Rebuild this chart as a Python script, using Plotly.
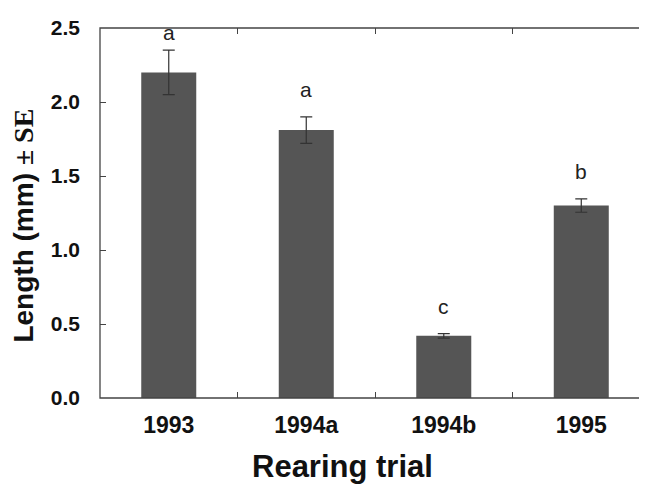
import plotly.graph_objects as go

categories = ["1993", "1994a", "1994b", "1995"]
lengths = [2.20, 1.81, 0.42, 1.30]
se = [0.15, 0.09, 0.015, 0.045]
letters = ["a", "a", "c", "b"]
y_ticks = [0.0, 0.5, 1.0, 1.5, 2.0, 2.5]
x_boundaries = [0.5, 1.5, 2.5]
x_title = "Rearing trial"
y_title = "Length (mm) <span style='font-family:Liberation Serif'>± SE</span>"

label_gap_px = [4, 14, 14, 14]
x_range = [-0.5, 3.478]
y_range = [0, 2.5]
axis_col = "#444444"
sans = "Liberation Sans, Arial"

fig = go.Figure()
fig.add_trace(go.Bar(
    x=list(range(len(categories))), y=lengths, width=0.4,
    marker=dict(color="#555555", line=dict(width=0)),
    error_y=dict(type="data", array=se, visible=True, color="#333333",
                 thickness=1.2, width=6),
    showlegend=False, hoverinfo="skip",
))
# empty helper traces so the tick-only overlay axes are drawn
fig.add_trace(go.Scatter(x=[None], y=[None], xaxis="x2", yaxis="y2",
                         showlegend=False, hoverinfo="skip", mode="markers"))
fig.add_trace(go.Scatter(x=[None], y=[None], xaxis="x3", yaxis="y",
                         showlegend=False, hoverinfo="skip", mode="markers"))

for i, (v, s, t, g) in enumerate(zip(lengths, se, letters, label_gap_px)):
    fig.add_annotation(x=i, y=v + s, text=t, showarrow=False,
                       yanchor="bottom", yshift=g,
                       font=dict(family=sans, size=21, color="#222222"))

# axis titles
fig.add_annotation(xref="paper", yref="paper", x=0.444, y=0, yshift=-68,
                   xanchor="center", yanchor="middle", showarrow=False, text=x_title,
                   font=dict(family=sans, size=31, color="#111111", weight="bold"))
fig.add_annotation(xref="paper", yref="paper", x=0, y=0.466, xshift=-76,
                   xanchor="center", yanchor="middle", showarrow=False, text=y_title,
                   textangle=-90,
                   font=dict(family=sans, size=28, color="#111111", weight="bold"))

# frame: left, top and bottom sides (right side lies beyond the picture)
fig.add_shape(type="path", xref="paper", yref="paper",
              path="M 1.02 1 L 0 1 L 0 0 L 1.02 0",
              line=dict(color=axis_col, width=1.3), layer="above")

tick_common = dict(ticks="inside", ticklen=6, tickwidth=1.2, tickcolor=axis_col,
                   showgrid=False, zeroline=False, showline=False)

# the page is drawn 8 px in from its top-left corner, so margins are shifted accordingly
fig.update_layout(
    width=647, height=485,
    margin=dict(l=92, r=8, t=11, b=95),
    paper_bgcolor="white", plot_bgcolor="white",
    xaxis=dict(
        range=x_range, tickvals=list(range(len(categories))), ticktext=categories,
        showline=False, ticks="", showgrid=False, zeroline=False,
        tickfont=dict(family=sans, size=23, color="#111111", weight="bold"),
        ticklabelstandoff=11,
    ),
    xaxis2=dict(range=x_range, overlaying="x", side="top", tickvals=x_boundaries,
                showticklabels=False, **tick_common),
    xaxis3=dict(range=x_range, overlaying="x", side="bottom", anchor="y", tickvals=x_boundaries,
                showticklabels=False, **tick_common),
    yaxis=dict(
        range=y_range, tickvals=y_ticks, tickformat=".1f", **tick_common,
        tickfont=dict(family=sans, size=21, color="#111111", weight="bold"),
        ticklabelstandoff=19, ticklabeloverflow="allow",
    ),
    yaxis2=dict(range=y_range, overlaying="y", side="right", tickvals=y_ticks,
                showticklabels=False, **tick_common),
)

fig.write_html("out.html")
